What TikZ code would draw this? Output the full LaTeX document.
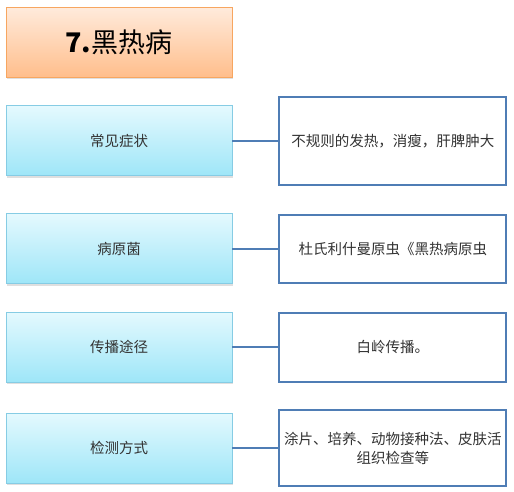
\documentclass[tikz,border=0pt]{standalone}
\usepackage{fontspec}
\newfontfamily\cjk{Noto Sans CJK SC}
\usepackage{xcolor}
\usetikzlibrary{positioning, shadows}

\definecolor{titletop}{HTML}{FFEBDC}
\definecolor{titlebot}{HTML}{FFBE8C}
\definecolor{titleline}{HTML}{F7A660}
\definecolor{cattop}{HTML}{E4F9FE}
\definecolor{catbot}{HTML}{9EE6F8}
\definecolor{catline}{HTML}{86CCE4}
\definecolor{infoline}{HTML}{4F7DB5}
\definecolor{txt}{HTML}{333333}

\begin{document}
\begin{tikzpicture}[
  x=1pt, y=1pt,
  title/.style={draw=titleline, line width=0.8pt, top color=titletop, bottom color=titlebot, minimum width=226pt, minimum height=70pt, font=\cjk\fontsize{27}{30}\selectfont, drop shadow={opacity=0.25, shadow xshift=0.8pt, shadow yshift=-2pt}},
  cat/.style={draw=catline, line width=0.8pt, top color=cattop, bottom color=catbot, minimum width=226pt, minimum height=70pt, font=\cjk\fontsize{14.5}{17}\selectfont, text=txt, drop shadow={opacity=0.25, shadow xshift=0.8pt, shadow yshift=-2pt}},
  info/.style={draw=infoline, line width=1.8pt, fill=white, minimum width=227pt, minimum height=#1, align=center, font=\cjk\fontsize{14.5}{19}\selectfont, text=txt},
  info/.default=70pt,
  link/.style={draw=infoline, line width=2pt},
  every node/.style={inner sep=2pt},
]

\useasboundingbox (0,0) rectangle (514,-491);

% === TITLE ===
\node[title] (head) at (119,-42) {\textbf{7.}黑热病};

% === CATEGORIES ===
\node[cat, below=28pt of head] (symptom) {常见症状};
\node[cat, below=37pt of symptom] (pathogen) {病原菌};
\node[cat, below=28pt of pathogen] (spread) {传播途径};
\node[cat, below=30pt of spread] (detect) {检测方式};

% === DETAILS ===
\node[info=88pt, right=46pt of symptom] (symptom_txt) {不规则的发热，消瘦，肝脾肿大};
\node[info=68pt, right=46pt of pathogen] (pathogen_txt) {杜氏利什曼原虫《黑热病原虫};
\node[info=69pt, right=46pt of spread] (spread_txt) {白岭传播。};
\node[info=76pt, right=46pt of detect] (detect_txt) {涂片、培养、动物接种法、皮肤活\\组织检查等};

\draw[link] (symptom) -- (symptom_txt);
\draw[link] (pathogen) -- (pathogen_txt);
\draw[link] (spread) -- (spread_txt);
\draw[link] (detect) -- (detect_txt);

\end{tikzpicture}
\end{document}
